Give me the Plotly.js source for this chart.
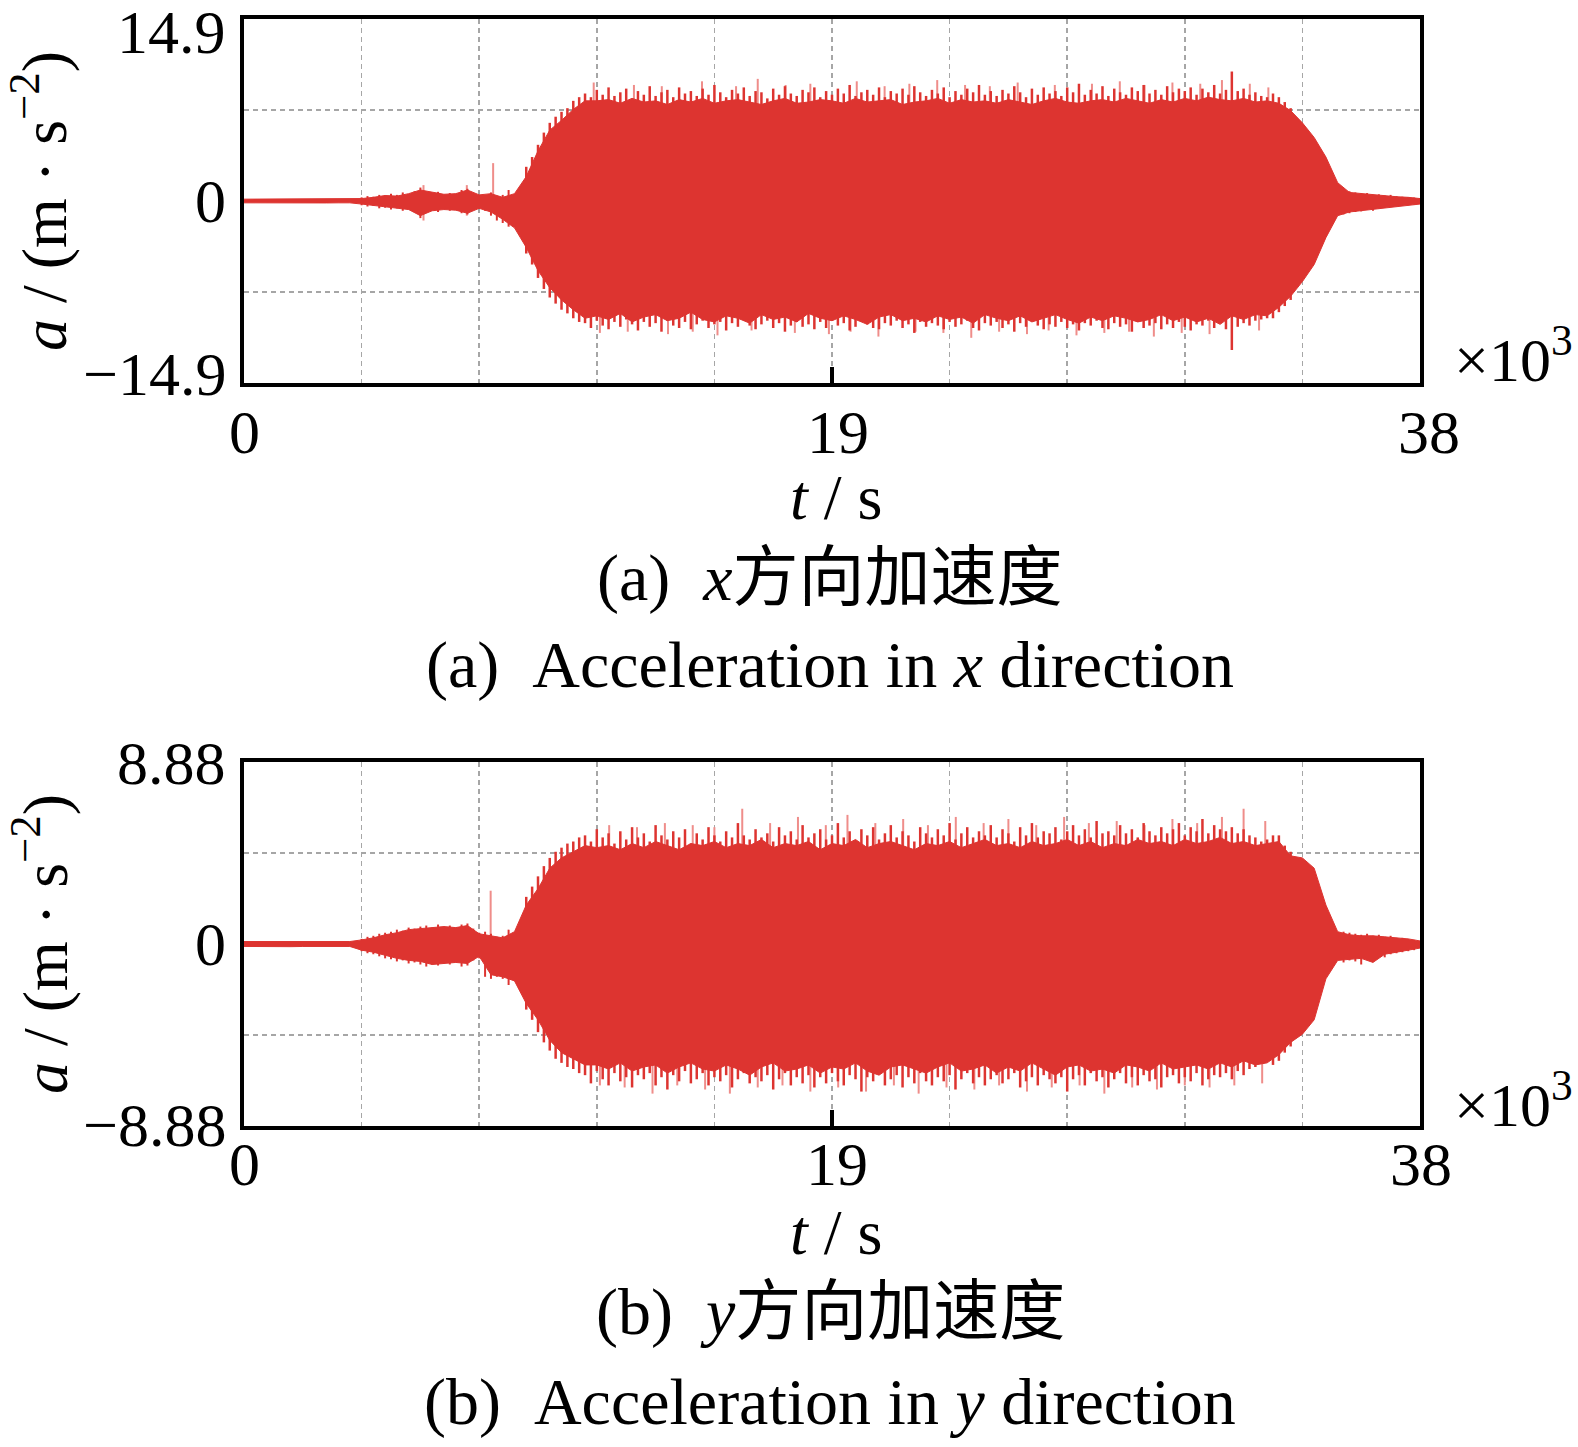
<!DOCTYPE html>
<html><head><meta charset="utf-8">
<script src="https://cdn.plot.ly/plotly-3.0.1.min.js"></script>
<style>html,body{margin:0;padding:0;background:#fff}#chart{width:1578px;height:1447px}</style>
</head><body><div id="chart"></div>
<script>
// ---- sampling grids (×10^3 s) ----
const tStep = 0.38, nPts = 101;
const timeGrid = Array.from({length: nPts}, (_, i) => +(i * tStep).toFixed(2));
const peakStart = 9.12, peakStep = 0.19, nPeaks = 131;
const peakGrid = Array.from({length: nPeaks}, (_, i) => +(peakStart + i * peakStep).toFixed(2));
const preGrid = Array.from({length: 26}, (_, i) => +(3.8 + i * 0.19).toFixed(2));
const postGrid = Array.from({length: 14}, (_, i) => +(35.53 + i * 0.19).toFixed(2));

// ---- x-direction acceleration (m/s^2): dense core envelope ----
const axUpper = [
  0.15,0.15,0.16,0.15,0.15,0.16,0.15,0.15,0.16,0.15,
  0.2,0.3,0.45,0.4,0.6,0.9,0.7,0.55,0.6,0.9,0.5,
  0.6,0.3,0.6,2.0,4.1,5.8,6.6,7.5,8.2,
  8.2,8.3,8.0,8.4,8.1,8.2,7.9,8.3,8.1,8.4,
  8.0,8.2,8.3,8.1,7.9,8.2,8.4,8.0,8.1,8.3,
  8.2,8.0,8.4,8.1,8.2,8.3,7.9,8.1,8.2,8.4,
  8.0,8.3,8.1,8.2,8.0,8.3,8.1,7.9,8.2,8.4,
  8.1,8.0,8.2,8.3,8.1,8.4,8.2,8.0,8.3,8.1,
  8.4,8.2,8.5,8.3,8.2,8.4,8.1,
  8.2,8.0,7.4,6.4,5.2,3.6,1.5,0.7,0.6,0.5,0.45,0.35,0.3,0.2
];
const axLower = [
  -0.15,-0.16,-0.15,-0.15,-0.16,-0.15,-0.15,-0.16,-0.15,-0.15,
  -0.25,-0.35,-0.5,-0.6,-0.7,-1.2,-0.8,-0.7,-0.75,-1.0,-0.6,
  -0.9,-1.5,-2.2,-3.8,-5.7,-7.1,-8.1,-8.9,-9.6,
  -9.4,-9.7,-9.2,-9.9,-9.5,-9.3,-9.8,-9.6,-9.1,-9.7,
  -9.9,-9.4,-9.6,-10.0,-9.3,-9.7,-9.5,-9.9,-9.2,-9.6,
  -9.8,-9.4,-9.7,-10.1,-9.5,-9.3,-9.8,-9.6,-9.9,-9.4,
  -9.7,-9.5,-10.0,-9.3,-9.6,-9.8,-9.4,-9.9,-9.6,-9.3,
  -9.7,-10.0,-9.5,-9.8,-9.4,-9.6,-9.9,-9.7,-9.3,-9.8,
  -9.5,-9.9,-9.6,-10.1,-9.4,-9.7,-9.3,
  -9.4,-8.7,-7.8,-6.6,-5.2,-3.0,-1.2,-0.9,-0.8,-0.7,-0.55,-0.45,-0.35,-0.25
];
// individual oscillation peaks / troughs along the edge (on peakGrid)
const axPeaks = [
  2.8,3.6,4.6,5.6,6.4,6.9,7.3,7.6,8.2,8.5,
  8.8,8.5,9.1,8.7,9.3,8.6,8.9,9.2,8.4,9.0,
  8.7,9.4,8.6,8.9,9.1,8.5,9.3,8.8,9.0,8.6,
  9.2,8.7,9.5,8.9,8.5,9.1,8.8,9.3,8.6,9.0,
  8.9,8.4,9.2,8.7,9.4,8.8,8.6,9.1,8.9,9.3,
  8.5,9.0,8.7,9.2,8.8,9.5,8.6,8.9,9.1,8.7,
  9.3,8.5,9.0,8.8,9.2,8.7,9.4,8.9,8.6,9.1,
  8.8,9.3,8.5,9.0,8.7,9.2,8.9,9.5,8.7,9.0,
  8.6,9.1,8.8,9.4,8.9,8.5,9.2,8.7,9.3,8.8,
  9.0,8.6,9.3,8.9,9.6,8.7,9.1,8.8,9.4,8.6,
  9.2,8.9,8.7,9.3,9.0,9.5,8.8,9.1,8.7,9.4,
  8.9,9.2,9.0,9.3,8.7,9.2,8.9,9.5,8.8,9.1,
  10.6,9.0,9.2,8.7,8.9,8.6,8.5,
  8.8,8.5,8.1,7.6
];
const axTroughs = [
  -4.3,-5.2,-6.3,-7.2,-7.9,-8.4,-8.9,-9.2,-9.6,-9.9,
  -10.0,-10.4,-9.8,-10.2,-10.5,-9.9,-10.3,-9.7,-10.1,-10.6,
  -9.9,-10.3,-10.0,-10.7,-9.8,-10.2,-10.4,-9.9,-10.5,-10.1,
  -9.8,-10.4,-10.1,-9.9,-10.6,-10.0,-10.3,-9.7,-10.2,-10.5,
  -10.1,-9.8,-10.4,-10.0,-10.7,-10.2,-9.9,-10.3,-10.1,-10.5,
  -9.9,-10.4,-9.8,-10.2,-10.0,-10.6,-10.3,-9.9,-10.1,-10.4,
  -10.5,-10.0,-10.2,-9.8,-10.4,-10.1,-10.8,-9.9,-10.3,-10.0,
  -10.2,-10.5,-9.9,-10.3,-10.1,-9.8,-10.4,-10.6,-10.0,-10.2,
  -9.9,-10.4,-10.1,-10.7,-10.0,-10.3,-9.8,-10.2,-10.5,-10.1,
  -10.3,-9.9,-10.4,-10.1,-10.6,-10.0,-10.2,-9.8,-10.4,-10.5,
  -10.0,-10.3,-10.1,-10.7,-9.9,-10.4,-10.2,-10.0,-10.5,-10.1,
  -10.4,-9.9,-10.3,-10.6,-10.1,-10.2,-9.8,-10.4,-10.0,-10.5,
  -12.2,-10.3,-10.0,-10.2,-9.8,-9.7,-9.6,
  -9.6,-9.1,-8.6,-8.1
];
// low-level vibration before ramp-up (preGrid) and after ramp-down (postGrid)
const axPrePeaks   = [0.3,0.4,0.35,0.5,0.45,0.6,0.5,0.7,0.55,0.8,1.1,0.7,0.6,0.75,0.5,0.65,0.6,0.9,1.0,0.6,0.5,0.45,0.7,0.4,0.5,0.9];
const axPreTroughs = [-0.35,-0.45,-0.4,-0.6,-0.55,-0.7,-0.6,-0.8,-0.7,-0.9,-1.4,-0.9,-0.75,-0.9,-0.65,-0.8,-0.75,-1.0,-1.1,-0.7,-0.65,-0.8,-1.2,-1.6,-1.8,-2.1];
const axPostPeaks   = [1.0,0.8,0.7,0.6,0.65,0.5,0.55,0.45,0.5,0.4,0.35,0.3,0.28,0.2];
const axPostTroughs = [-1.1,-1.0,-0.9,-0.85,-0.7,-0.8,-0.6,-0.55,-0.5,-0.45,-0.4,-0.35,-0.3,-0.22];
// sparse taller (lighter) spikes
const axSpikeUpT = [5.8,7.2,8.05,11.3,12.6,13.5,14.8,15.9,16.6,17.5,18.3,19.8,20.7,21.5,22.4,23.3,24.1,25.0,26.2,27.4,28.3,29.1,30.0,30.9,31.6,32.5,33.1];
const axSpikeUpV = [1.3,1.3,3.1,9.7,9.5,9.4,9.8,9.4,10.0,9.5,9.6,9.8,9.4,9.6,9.9,9.5,9.4,9.7,9.5,9.6,9.8,9.5,9.7,9.6,9.9,9.6,9.3];
const axSpikeDnT = [5.8,7.2,11.5,12.4,13.7,14.5,15.3,16.4,17.8,18.9,19.6,20.5,21.7,22.6,23.5,24.4,25.3,26.0,26.9,27.8,28.6,29.4,30.3,31.2,32.8];
const axSpikeDnV = [-1.6,-1.2,-10.8,-10.7,-10.9,-10.7,-11.0,-10.6,-10.8,-10.9,-10.7,-11.1,-10.7,-10.8,-11.2,-10.7,-10.9,-10.6,-11.0,-10.8,-10.7,-11.1,-10.8,-10.9,-10.6];

// ---- y-direction acceleration (m/s^2) ----
const ayUpper = [
  0.12,0.12,0.13,0.12,0.12,0.13,0.12,0.12,0.13,0.12,
  0.2,0.3,0.45,0.55,0.7,0.75,0.8,0.85,0.8,0.9,0.5,
  0.4,0.3,0.6,1.9,2.7,3.7,4.2,4.5,4.8,
  4.7,4.8,4.6,4.9,4.7,5.0,4.8,4.6,4.9,4.8,
  5.0,4.7,4.9,4.8,5.1,4.7,4.9,4.8,5.0,4.6,
  4.9,4.8,5.1,4.7,4.9,5.0,4.8,4.6,4.9,4.8,
  5.0,4.7,4.9,5.1,4.8,4.9,4.7,5.0,4.8,4.9,
  5.1,4.8,5.0,4.7,4.9,4.8,5.1,4.9,5.0,4.8,
  5.1,4.9,5.0,5.2,4.9,5.0,4.8,
  4.9,5.0,4.3,4.2,3.7,1.9,0.6,0.45,0.4,0.4,0.35,0.3,0.25,0.15
];
const ayLower = [
  -0.12,-0.13,-0.12,-0.12,-0.13,-0.12,-0.12,-0.13,-0.12,-0.12,
  -0.3,-0.4,-0.55,-0.7,-0.8,-0.85,-1.0,-0.95,-0.9,-0.95,-0.6,
  -1.5,-1.6,-1.8,-2.9,-3.7,-4.7,-5.3,-5.6,-5.9,
  -5.9,-6.1,-5.8,-6.2,-6.0,-5.9,-6.3,-6.0,-5.8,-6.1,
  -6.2,-5.9,-6.1,-6.4,-6.0,-5.8,-6.2,-6.1,-5.9,-6.3,
  -6.0,-6.1,-5.8,-6.2,-6.4,-6.0,-5.9,-6.1,-6.3,-6.0,
  -5.8,-6.2,-6.1,-5.9,-6.3,-6.0,-6.2,-5.8,-6.1,-6.4,
  -6.0,-5.9,-6.2,-6.1,-6.3,-5.9,-6.0,-6.2,-5.8,-6.1,
  -6.0,-5.9,-6.1,-5.8,-6.0,-5.7,-5.9,
  -5.8,-5.4,-4.8,-4.4,-3.7,-1.7,-0.8,-0.75,-0.7,-0.9,-0.5,-0.4,-0.3,-0.2
];
const ayPeaks = [
  2.3,2.8,3.3,3.8,4.2,4.5,4.7,4.9,5.0,5.2,
  5.3,5.0,5.6,5.2,5.4,4.9,5.5,5.1,5.7,5.2,
  5.4,5.0,5.8,5.3,5.1,5.5,5.2,5.6,4.9,5.4,
  5.1,5.7,5.3,5.0,5.5,5.2,5.9,5.3,5.1,5.6,
  5.2,5.4,5.0,5.7,5.3,5.5,5.1,5.8,5.2,5.4,
  5.6,5.1,5.3,5.9,5.2,5.5,5.0,5.6,5.3,5.7,
  5.1,5.4,5.8,5.2,5.5,5.3,5.0,5.7,5.4,5.2,
  5.6,5.3,5.9,5.1,5.4,5.7,5.2,5.5,5.3,5.8,
  5.2,5.6,5.4,5.0,5.7,5.3,5.9,5.2,5.5,5.4,
  5.7,5.1,5.5,5.8,5.3,5.6,5.2,6.0,5.4,5.5,
  5.3,5.8,5.4,5.6,5.2,5.9,5.5,5.3,5.7,5.4,
  5.6,5.9,5.3,5.7,5.5,6.1,5.4,5.8,5.6,5.5,
  5.7,5.4,5.6,5.3,5.2,5.0,5.1,
  5.3,5.3,4.8,4.5
];
const ayTroughs = [
  -3.2,-3.7,-4.3,-4.8,-5.2,-5.6,-5.8,-6.0,-6.1,-6.3,
  -6.4,-6.8,-6.2,-6.6,-6.9,-6.3,-6.7,-6.5,-7.0,-6.4,
  -6.6,-6.3,-6.9,-6.5,-7.1,-6.4,-6.7,-6.2,-6.8,-6.6,
  -6.3,-6.9,-6.5,-6.7,-6.4,-7.0,-6.6,-6.3,-6.8,-6.5,
  -6.7,-6.4,-7.1,-6.6,-6.3,-6.9,-6.5,-6.8,-6.4,-7.0,
  -6.5,-6.8,-6.3,-6.7,-6.9,-6.4,-6.6,-7.2,-6.5,-6.7,
  -6.3,-6.9,-6.6,-6.4,-7.0,-6.5,-6.8,-6.3,-6.7,-6.9,
  -6.5,-6.7,-6.4,-7.1,-6.6,-6.3,-6.8,-6.5,-6.9,-6.6,
  -6.4,-6.8,-6.6,-6.3,-7.0,-6.7,-6.5,-6.9,-6.4,-6.6,
  -6.8,-6.5,-7.2,-6.6,-6.4,-6.9,-6.3,-6.7,-6.5,-7.0,
  -6.6,-6.3,-6.8,-6.5,-6.9,-6.4,-6.7,-6.6,-7.0,-6.5,
  -6.4,-6.8,-6.5,-6.7,-6.3,-6.9,-6.6,-6.4,-6.5,-6.3,
  -6.6,-6.2,-6.4,-6.1,-6.0,-5.8,-5.7,
  -5.9,-5.7,-5.3,-5.0
];
const ayPrePeaks   = [0.25,0.35,0.4,0.5,0.55,0.6,0.7,0.65,0.8,0.75,0.85,0.9,0.8,0.95,0.85,0.9,0.8,0.95,1.0,0.75,0.55,0.6,0.5,0.35,0.4,0.7];
const ayPreTroughs = [-0.35,-0.45,-0.5,-0.6,-0.7,-0.75,-0.85,-0.8,-0.95,-0.9,-1.0,-1.1,-1.0,-1.05,-0.95,-1.0,-0.9,-1.1,-1.05,-0.8,-0.7,-1.6,-1.7,-1.6,-1.7,-2.0];
const ayPostPeaks   = [0.6,0.55,0.5,0.45,0.5,0.4,0.45,0.35,0.4,0.3,0.3,0.25,0.2,0.15];
const ayPostTroughs = [-0.9,-0.8,-0.85,-1.0,-0.75,-0.7,-0.6,-0.65,-0.5,-0.45,-0.4,-0.35,-0.3,-0.2];
const aySpikeUpT = [7.97,11.8,12.7,13.6,14.5,15.2,16.1,17.0,17.9,18.8,19.5,20.4,21.3,22.1,23.0,23.9,24.7,25.6,26.5,27.3,28.2,29.1,30.0,30.8,31.6,32.3,33.0];
const aySpikeUpV = [2.6,5.8,5.7,5.9,5.8,5.7,6.6,5.9,6.2,5.8,6.3,5.9,6.1,5.8,6.2,5.9,6.1,5.8,6.2,5.9,6.0,5.8,6.1,5.9,6.2,6.6,6.0];
const aySpikeDnT = [11.5,12.3,13.2,14.0,14.9,15.7,16.6,17.4,18.3,19.2,20.1,21.0,21.8,22.7,23.6,24.4,25.3,26.1,27.0,27.8,28.7,29.5,30.4,31.2,32.0,32.9];
const aySpikeDnV = [-6.9,-7.0,-7.3,-6.9,-7.1,-7.3,-7.0,-6.9,-7.2,-7.0,-7.2,-6.9,-7.3,-7.0,-7.1,-6.9,-7.2,-7.0,-6.9,-7.3,-7.0,-7.1,-6.9,-7.0,-6.9,-6.8];

// ---- axes / labels ----
const xRange = [0, 38];
const xTickVals = [0, 19, 38];
const xTickText = ['0', '19', '38'];
const xGridVals = [3.8, 7.6, 11.4, 15.2, 22.8, 26.6, 30.4, 34.2];
const axLim = 14.9, ayLim = 8.88;
const axTickVals = [-14.9, 0, 14.9];
const axTickText = ['\u221214.9', '0', '14.9'];
const ayTickVals = [-8.88, 0, 8.88];
const ayTickText = ['\u22128.88', '0', '8.88'];

const RED = '#dd3430', PINK = '#ef8d8a';
const FONT = 'Liberation Serif, "Noto Sans CJK SC", serif';

function spikes(ts, vs, xa, ya, color, width) {
  const x = [], y = [];
  ts.forEach((t, k) => { x.push(t, t, null); y.push(0, vs[k], null); });
  return {type: 'scatter', mode: 'lines', x, y, xaxis: xa, yaxis: ya,
          line: {color, width}, hoverinfo: 'skip'};
}
function band(up, lo, xa, ya) {
  return [
    {type: 'scatter', mode: 'lines', x: timeGrid, y: up, xaxis: xa, yaxis: ya,
     line: {color: RED, width: 1}, hoverinfo: 'skip'},
    {type: 'scatter', mode: 'lines', x: timeGrid, y: lo, xaxis: xa, yaxis: ya,
     line: {color: RED, width: 1}, fill: 'tonexty', fillcolor: RED, hoverinfo: 'skip'}
  ];
}

const traces = [
  spikes(axSpikeUpT, axSpikeUpV, 'x', 'y', PINK, 2),
  spikes(axSpikeDnT, axSpikeDnV, 'x', 'y', PINK, 2),
  spikes(peakGrid, axPeaks, 'x', 'y', RED, 2.5),
  spikes(peakGrid, axTroughs, 'x', 'y', RED, 2.5),
  spikes(preGrid, axPrePeaks, 'x', 'y', RED, 2),
  spikes(preGrid, axPreTroughs, 'x', 'y', RED, 2),
  spikes(postGrid, axPostPeaks, 'x', 'y', RED, 2),
  spikes(postGrid, axPostTroughs, 'x', 'y', RED, 2),
  ...band(axUpper, axLower, 'x', 'y'),
  spikes(aySpikeUpT, aySpikeUpV, 'x2', 'y2', PINK, 2),
  spikes(aySpikeDnT, aySpikeDnV, 'x2', 'y2', PINK, 2),
  spikes(peakGrid, ayPeaks, 'x2', 'y2', RED, 2.5),
  spikes(peakGrid, ayTroughs, 'x2', 'y2', RED, 2.5),
  spikes(preGrid, ayPrePeaks, 'x2', 'y2', RED, 2),
  spikes(preGrid, ayPreTroughs, 'x2', 'y2', RED, 2),
  spikes(postGrid, ayPostPeaks, 'x2', 'y2', RED, 2),
  spikes(postGrid, ayPostTroughs, 'x2', 'y2', RED, 2),
  ...band(ayUpper, ayLower, 'x2', 'y2')
];

const W = 1578, H = 1447;
const px = v => v / W, py = v => 1 - v / H;
const GRID = {gridcolor: '#a6a6a6', gridwidth: 1.5, griddash: '5px,4px'};

function xAxis(anchor, domain) {
  return Object.assign({
    anchor, domain, range: xRange, tickmode: 'array', tickvals: xTickVals,
    showticklabels: false, ticks: 'inside', ticklen: 16, tickwidth: 4, tickcolor: '#000',
    showgrid: true,
    minor: Object.assign({tickmode: 'array', tickvals: xGridVals, ticks: '', showgrid: true}, GRID),
    showline: true, linewidth: 4, linecolor: '#000', mirror: true, zeroline: false, fixedrange: true
  }, GRID);
}
function yAxis(anchor, domain, lim) {
  return Object.assign({
    anchor, domain, range: [-lim, lim], tickmode: 'array',
    tickvals: [-lim, -lim / 2, 0, lim / 2, lim], showticklabels: false, ticks: '',
    showgrid: true,
    showline: true, linewidth: 4, linecolor: '#000', mirror: true, zeroline: false, fixedrange: true
  }, GRID);
}

const ann = (text, x, y, size, extra) => Object.assign({
  text, x: px(x), y: py(y), xref: 'paper', yref: 'paper', showarrow: false,
  xanchor: 'center', yanchor: 'middle', font: {family: FONT, size, color: '#000'}
}, extra || {});

// tick-label annotations built from the tick arrays (yshift > 0 moves up)
function yTickAnns(vals, texts, yref, shifts) {
  return vals.map((v, k) => ({
    text: texts[k], x: px(228), xref: 'paper', y: v, yref, yshift: shifts[k],
    xanchor: 'right', yanchor: 'middle', showarrow: false,
    font: {family: FONT, size: 62, color: '#000'}
  }));
}
function xTickAnns(xref, yPix, shifts) {
  return xTickVals.map((v, k) => ({
    text: xTickText[k], x: v, xref, y: py(yPix), yref: 'paper', xshift: shifts[k],
    xanchor: 'center', yanchor: 'middle', showarrow: false,
    font: {family: FONT, size: 62, color: '#000'}
  }));
}

const NB = '\u00A0';
const layout = {
  width: W, height: H, margin: {l: 0, r: 0, t: 0, b: 0},
  paper_bgcolor: '#fff', plot_bgcolor: '#fff', showlegend: false,
  xaxis: xAxis('y', [px(244), px(1420)]),
  yaxis: yAxis('x', [py(383), py(19)], axLim),
  xaxis2: xAxis('y2', [px(244), px(1420)]),
  yaxis2: yAxis('x2', [py(1126), py(762)], ayLim),
  annotations: [
    ...yTickAnns(axTickVals, axTickText, 'y', [9, 0, -13]),
    ...yTickAnns(ayTickVals, ayTickText, 'y2', [1, 0, -1]),
    ...xTickAnns('x', 432, [0, 6, 9]),
    ...xTickAnns('x2', 1164, [0, 5, 1]),
    ann('<i>a</i> / (m · s<sup>\u22122</sup>)', 40, 201, 64, {textangle: -90}),
    ann('<i>a</i> / (m · s<sup>\u22122</sup>)', 40, 944, 64, {textangle: -90}),
    ann('<i>t</i> / s', 836, 497, 64),
    ann('<i>t</i> / s', 836, 1232, 64),
    ann('×10<sup>3</sup>', 1452, 355, 62, {xanchor: 'left'}),
    ann('×10<sup>3</sup>', 1452, 1100, 62, {xanchor: 'left'}),
    ann('(a)' + NB + NB + '<i>x</i>方向加速度', 830, 578, 66),
    ann('(a)' + NB + NB + 'Acceleration in <i>x</i> direction', 830, 665, 66),
    ann('(b)' + NB + NB + '<i>y</i>方向加速度', 830, 1312, 66),
    ann('(b)' + NB + NB + 'Acceleration in <i>y</i> direction', 830, 1402, 66)
  ]
};

Plotly.newPlot('chart', traces, layout, {staticPlot: true, displayModeBar: false});
</script>
</body></html>
